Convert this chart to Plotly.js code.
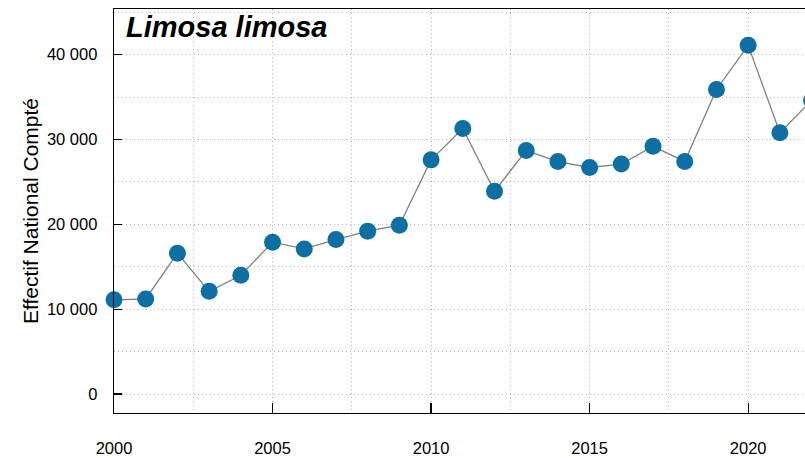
<!DOCTYPE html>
<html>
<head>
<meta charset="utf-8">
<script src="https://cdn.plot.ly/plotly-3.0.1.min.js"></script>
<style>
html, body { margin: 0; padding: 0; overflow: hidden; background: #fff; width: 805px; height: 458px; }
#chart { width: 900px; height: 458px; }
</style>
</head>
<body>
<div id="chart"></div>
<script>
const years = [2000, 2001, 2002, 2003, 2004, 2005, 2006, 2007, 2008, 2009, 2010, 2011,
               2012, 2013, 2014, 2015, 2016, 2017, 2018, 2019, 2020, 2021, 2022];
const counts = [11100, 11200, 16600, 12100, 14000, 17900, 17100, 18200, 19200, 19900, 27600, 31300,
                23900, 28700, 27400, 26700, 27100, 29200, 27400, 35900, 41100, 30800, 34600];
const yTickVals = [0, 10000, 20000, 30000, 40000];
const yTickText = ['0', '10 000', '20 000', '30 000', '40 000'];
const xTickVals = [2000, 2005, 2010, 2015, 2020];
const speciesName = 'Limosa limosa';
const yTitle = 'Effectif National Compté';

const font = 'Liberation Sans, Arial, sans-serif';
const gridCol = '#b4b4b4';

const trace = {
  x: years, y: counts, type: 'scatter', mode: 'lines+markers',
  line: { color: '#808080', width: 1.3 },
  marker: { color: '#0d6fa4', size: 17 },
  cliponaxis: false,
  hoverinfo: 'skip'
};

const layout = {
  width: 900, height: 458,
  margin: { l: 114, r: 25, t: 9, b: 45 },
  paper_bgcolor: '#fff', plot_bgcolor: '#fff',
  showlegend: false,
  font: { family: font, color: '#000', size: 16.5 },
  xaxis: {
    range: [2000, 2024], showline: true, mirror: true, linecolor: '#000', linewidth: 1.3,
    tickmode: 'array', tickvals: xTickVals, ticktext: xTickVals.map(String),
    ticks: 'inside', ticklen: 10, tickcolor: '#000', tickwidth: 1.3,
    ticklabelstandoff: 20,
    showgrid: true, gridcolor: gridCol, griddash: '1px,3px', gridwidth: 1,
    minor: { dtick: 2.5, tick0: 2000, showgrid: true, gridcolor: gridCol, griddash: '1px,3px', gridwidth: 1, ticks: '' },
    zeroline: false, tickfont: { size: 16.5 }
  },
  yaxis: {
    range: [-2240, 45385], showline: true, mirror: true, linecolor: '#000', linewidth: 1.3,
    tickmode: 'array', tickvals: yTickVals, ticktext: yTickText,
    ticks: 'inside', ticklen: 8, tickcolor: '#000', tickwidth: 1.3,
    ticklabelstandoff: 12,
    showgrid: true, gridcolor: gridCol, griddash: '1px,3px', gridwidth: 1,
    minor: { dtick: 5000, tick0: 0, showgrid: true, gridcolor: gridCol, griddash: '1px,3px', gridwidth: 1, ticks: '' },
    zeroline: false, tickfont: { size: 16.5 },
    title: { text: yTitle, font: { size: 21 }, standoff: 2 }
  },
  annotations: [{
    text: '<b><i>' + speciesName + '</i></b>', xref: 'paper', yref: 'paper',
    x: 0.013, y: 1.0, xanchor: 'left', yanchor: 'top', showarrow: false,
    font: { size: 29, family: font, color: '#000' }
  }]
};

Plotly.newPlot('chart', [trace], layout, { displayModeBar: false, staticPlot: true });
</script>
</body>
</html>
